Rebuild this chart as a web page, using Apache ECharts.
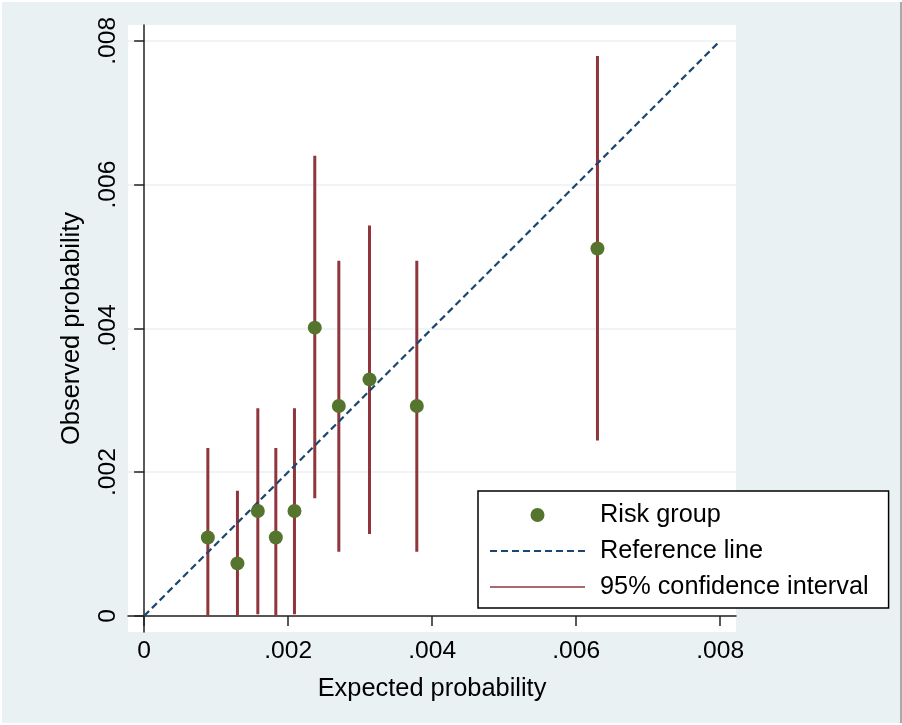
<!DOCTYPE html>
<html>
<head>
<meta charset="utf-8">
<script src="https://cdn.jsdelivr.net/npm/echarts@6/dist/echarts.min.js"></script>
<style>
  html, body { margin: 0; padding: 0; background: #ffffff; }
  #calib { position: absolute; left: 2px; top: 2px; width: 898px; height: 721px;
           background: #eaf1f3; border-right: 2px solid #a9a9a9; }
</style>
</head>
<body>
<div id="calib"></div>
<script>
// risk groups: expected vs observed probability, with 95% CI
var expected = [0.000885, 0.001296, 0.001579, 0.001829, 0.002088, 0.00237, 0.002704, 0.00313, 0.003787, 0.006296];
var observed = [0.00109, 0.00073, 0.00146, 0.00109, 0.00146, 0.00401, 0.00292, 0.00329, 0.00292, 0.00511];
var ciLow = [0, 0, 0.000024, 0, 0.000024, 0.001637, 0.000894, 0.00114, 0.000894, 0.00244];
var ciHigh = [0.002336, 0.00174, 0.002889, 0.002336, 0.002889, 0.0064, 0.00494, 0.00543, 0.00494, 0.00779];
var refLine = [[0, 0], [0.008, 0.008]];
var tickValues = [0, 0.002, 0.004, 0.006, 0.008];

var axisMin = -0.000224;
var axisMax = 0.00822;
var FONT = 'Liberation Sans, Arial, sans-serif';

var chartDom = document.getElementById('calib');
var myChart = echarts.init(chartDom);

function fmt(v) {
    if (v === 0) return '0';
    return String(v).replace(/^0/, '');
}

function makeAxis(name, isY) {
    return {
        type: 'value',
        min: axisMin,
        max: axisMax,
        name: name,
        nameLocation: 'middle',
        nameGap: isY ? 44 : 44,
        nameTextStyle: { fontFamily: FONT, fontSize: 25.4, color: '#000' },
        axisLine: { show: true, lineStyle: { color: '#222', width: 1.5 } },
        axisTick: { show: true, length: 10, customValues: tickValues, lineStyle: { color: '#222', width: 1.5 } },
        axisLabel: {
            customValues: tickValues,
            formatter: fmt,
            rotate: isY ? 90 : 0,
            margin: 7,
            fontFamily: FONT,
            fontSize: 24.6,
            color: '#000'
        },
        splitLine: { show: isY, lineStyle: { color: '#eaf1f3', width: 1.5 } }
    };
}

var series = [];
// CI spikes, one small line series each (same name -> one legend entry)
expected.forEach(function (x, i) {
    series.push({
        name: '95% confidence interval',
        type: 'line',
        data: [[x, ciLow[i]], [x, ciHigh[i]]],
        symbol: 'none',
        silent: true,
        color: '#90353b',
        lineStyle: { color: '#90353b', width: 3 },
        z: 1
    });
});
series.push({
    name: 'Reference line',
    type: 'line',
    data: refLine,
    symbol: 'none',
    silent: true,
    color: '#1a476f',
    lineStyle: { color: '#1a476f', width: 2.2, type: [7, 4] },
    z: 2
});
series.push({
    name: 'Risk group',
    type: 'scatter',
    data: expected.map(function (x, i) { return [x, observed[i]]; }),
    symbol: 'circle',
    symbolSize: 14,
    itemStyle: { color: '#55752f', opacity: 1 },
    z: 3
});

var option = {
    animation: false,
    backgroundColor: 'transparent',
    grid: {
        left: 126, top: 23, right: 164, bottom: 91,
        show: true, backgroundColor: '#ffffff', borderWidth: 0
    },
    xAxis: makeAxis('Expected probability', false),
    yAxis: makeAxis('Observed probability', true),
    legend: {
        orient: 'vertical',
        left: 476,
        top: 489,
        backgroundColor: '#ffffff',
        borderColor: '#000',
        borderWidth: 1.5,
        borderRadius: 0,
        padding: [9, 20, 6, 11],
        itemWidth: 95,
        itemHeight: 14,
        itemGap: 6,
        selectedMode: false,
        textStyle: { fontFamily: FONT, fontSize: 25.3, color: '#000', lineHeight: 30, padding: [0, 0, 0, 10] },
        data: [
            { name: 'Risk group', icon: 'circle' },
            { name: 'Reference line', itemStyle: { opacity: 0 }, lineStyle: { width: 2, type: [7, 4], opacity: 1 } },
            { name: '95% confidence interval', itemStyle: { opacity: 0 }, lineStyle: { width: 1.5, opacity: 1 } }
        ]
    },
    series: series
};

myChart.setOption(option);
</script>
</body>
</html>
